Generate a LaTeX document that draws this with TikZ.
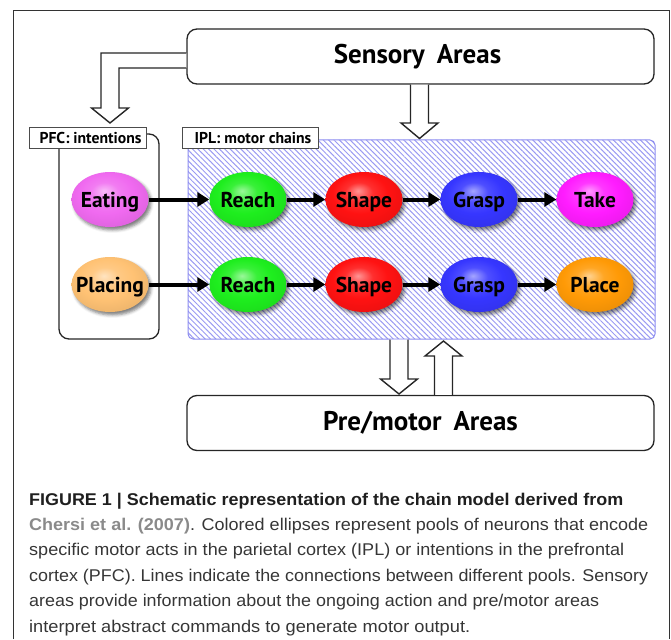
\documentclass[tikz,border=0pt]{standalone}
\usepackage{fontspec}
\usepackage{graphicx}
\setmainfont{PT Sans}
\newfontfamily\capfont{Liberation Sans}
\usetikzlibrary{arrows.meta,patterns.meta,shadows.blur,shapes.geometric,calc}
\definecolor{eatc}{HTML}{F06AF0}
\definecolor{takec}{HTML}{FF1CFF}
\definecolor{placingc}{HTML}{FFC274}
\definecolor{placec}{HTML}{FF9A06}
\definecolor{reachc}{HTML}{1EEE1E}
\definecolor{shapec}{HTML}{FF1212}
\definecolor{graspc}{HTML}{3636FF}
\definecolor{hatchc}{HTML}{9A9AF2}
\definecolor{iplborder}{HTML}{8C8CF0}
\definecolor{captxt}{HTML}{363636}
\definecolor{capgray}{HTML}{8A8A8A}
\newcommand\poolname[1]{\makebox[0pt]{#1}}
\makeatletter
\pgfdeclareradialshading[tikz@ball]{glossy}{\pgfqpoint{-4bp}{8bp}}{%
  color(0bp)=(tikz@ball!45!white);
  color(9bp)=(tikz@ball!88!white);
  color(18bp)=(tikz@ball);
  color(28bp)=(tikz@ball!94!black);
  color(50bp)=(tikz@ball!85!black)}
\makeatother
\tikzset{
  pool/.style={ellipse, minimum width=77pt, minimum height=55pt, inner sep=0pt,
    text height=15pt, text depth=0pt,
    font=\fontsize{21.5}{24}\selectfont\bfseries, text=black,
    ball color=#1, shading=glossy,
    blur shadow={shadow xshift=2.5pt, shadow yshift=-3pt, shadow blur radius=3pt, shadow opacity=50}},
  chainarrow/.style={line width=4pt, -{Triangle[length=12pt, width=14pt]}},
  areabox/.style={draw=black!85, line width=1.3pt, fill=white, rounded corners=10pt,
    minimum width=467pt, minimum height=55pt, inner sep=0pt,
    font=\fontsize{27}{30}\selectfont\bfseries},
  tag/.style={draw=black!70, line width=1pt, fill=white, anchor=north west, inner sep=0pt,
    minimum height=21pt, font=\fontsize{15.7}{18}\selectfont\bfseries},
  hollow/.style={draw=black!85, line width=1.4pt, fill=white, line join=miter},
  capline/.style={anchor=base west, inner sep=0pt, text=captxt, font=\capfont\fontsize{17}{20}\selectfont},
}
\begin{document}
\begin{tikzpicture}[x=1pt,y=-1pt]
\useasboundingbox (0,0) rectangle (671,639);
% outer frame
\draw[line width=1pt, black!80] (13,639) -- (13,11) -- (669,11) -- (669,639);

% regions
\node[draw=black!85, line width=1.3pt, rounded corners=10pt, minimum width=100pt, minimum height=205pt, inner sep=0pt] (pfc) at (109,236.5) {};
\node[draw=iplborder, line width=1pt, rounded corners=5pt, minimum width=467pt, minimum height=199pt, inner sep=0pt,
  pattern={Lines[angle=-45,distance=3.8pt,line width=1pt]}, pattern color=hatchc] (ipl) at (421.5,239.5) {};

% area boxes
\node[areabox] (sens) at (420.5,56.5) {\hspace{-6pt}Sensory\hspace{12pt}Areas};
\node[areabox] (motor) at (420.5,423) {Pre/motor\hspace{12pt}Areas};

% labels
\node[tag, minimum width=117pt] (pfcl) at (29,127) {\hspace{5pt}PFC: intentions\hfill};
\node[tag, minimum width=136pt] (ipll) at (182,127) {\hspace{5pt}IPL: motor chains\hfill};

% hollow arrows
\filldraw[hollow] ($(sens.west)+(0,-3.5)$) -- (101,53) -- (101,108) -- (91.5,108) -- (110,123) -- (128.5,108) -- (119,108) -- (119,68) -- ($(sens.west)+(0,11.5)$);
\filldraw[hollow] (sens.south -| 410.5,0) -- (410.5,123) -- (401,123) -- (419.5,138.5) -- (438,123) -- (428.5,123) -- (sens.south -| 428.5,0);
\filldraw[hollow] (ipl.south -| 390,0) -- (390,379) -- (380.5,379) -- (399,394) -- (417.5,379) -- (408,379) -- (ipl.south -| 408,0);
\filldraw[hollow] (motor.north -| 434.5,0) -- (434.5,356) -- (425,356) -- (443.5,341) -- (462,356) -- (452.5,356) -- (motor.north -| 452.5,0);

% pools
\node[pool=eatc] (eat) at (110,199.5) {\poolname{Eating}};
\node[pool=reachc] (reachA) at (248,199.5) {\poolname{Reach}};
\node[pool=shapec] (shapeA) at (364,199.5) {\poolname{Shape}};
\node[pool=graspc] (graspA) at (479,199.5) {\poolname{Grasp}};
\node[pool=takec] (take) at (595,199.5) {\poolname{Take}};
\node[pool=placingc] (placing) at (110,284.5) {\poolname{Placing}};
\node[pool=reachc] (reachB) at (248,284.5) {\poolname{Reach}};
\node[pool=shapec] (shapeB) at (364,284.5) {\poolname{Shape}};
\node[pool=graspc] (graspB) at (479,284.5) {\poolname{Grasp}};
\node[pool=placec] (place) at (595,284.5) {\poolname{Place}};

\draw[chainarrow] (eat) -- (reachA);
\draw[chainarrow] (reachA) -- (shapeA);
\draw[chainarrow] (shapeA) -- (graspA);
\draw[chainarrow] (graspA) -- (take);
\draw[chainarrow] (placing) -- (reachB);
\draw[chainarrow] (reachB) -- (shapeB);
\draw[chainarrow] (shapeB) -- (graspB);
\draw[chainarrow] (graspB) -- (place);

% caption
\node[capline] (c1) at (29,505) {\resizebox{594pt}{\height}{\color{black!88}\bfseries FIGURE 1 | Schematic representation of the chain model derived from}};
\node[capline] (c2) at (29,530.4) {\resizebox{619pt}{\height}{{\bfseries\color{capgray}Chersi et al. (2007)}. Colored ellipses represent pools of neurons that encode}};
\node[capline] (c3) at (29,555.8) {\resizebox{595pt}{\height}{specific motor acts in the parietal cortex (IPL) or intentions in the prefrontal}};
\node[capline] (c4) at (29,581.2) {\resizebox{619pt}{\height}{cortex (PFC). Lines indicate the connections between different pools. Sensory}};
\node[capline] (c5) at (29,606.6) {\resizebox{570pt}{\height}{areas provide information about the ongoing action and pre/motor areas}};
\node[capline] (c6) at (29,632) {\resizebox{441pt}{\height}{interpret abstract commands to generate motor output.}};
\end{tikzpicture}
\end{document}
